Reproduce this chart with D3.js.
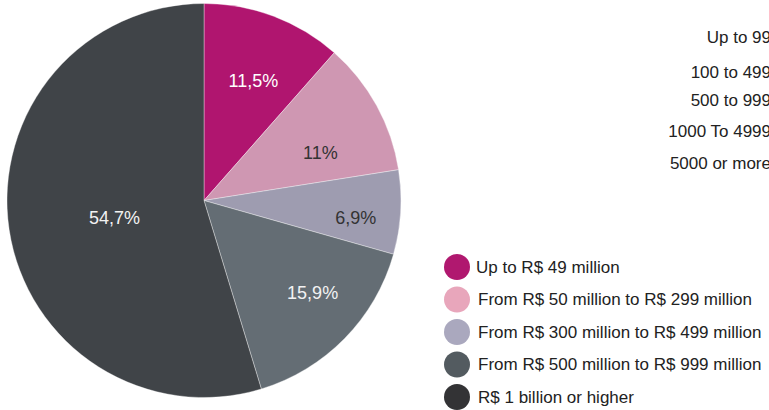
<!DOCTYPE html>
<html>
<head>
<meta charset="utf-8">
<script src="https://cdn.jsdelivr.net/npm/d3@7"></script>
<style>
  body { margin: 0; background: #fff; }
  svg { display: block; font-family: "Liberation Sans", Arial, sans-serif; }
</style>
</head>
<body>
<svg width="769" height="410"></svg>
<script>
// data
var categories = ["Up to R$ 49 million", "From R$ 50 million to R$ 299 million",
    "From R$ 300 million to R$ 499 million", "From R$ 500 million to R$ 999 million",
    "R$ 1 billion or higher"];
var shares = [11.5, 11, 6.9, 15.9, 54.7];
var shareLabels = ["11,5%", "11%", "6,9%", "15,9%", "54,7%"];
var sizeBands = ["Up to 99", "100 to 499", "500 to 999", "1000 To 4999", "5000 or more"];

var sliceColors = ["#b0156f", "#cf97b2", "#9e9cb0", "#646d74", "#404448"];
var legendColors = ["#b0186f", "#e8a6bb", "#aaa8be", "#535b60", "#333335"];
var labelColors = ["#fff", "#333", "#333", "#f2f2f2", "#f2f2f2"];

var svg = d3.select("svg");
var radius = 197;
var pieG = svg.append("g").attr("transform", "translate(204,200.5)");

var pie = d3.pie().sort(null).value(function (d) { return d; });
var arc = d3.arc().innerRadius(0).outerRadius(radius);
var labelArc = d3.arc().innerRadius(radius * 0.68).outerRadius(radius * 0.68);
// hand nudges so labels sit where the original put them
var nudges = [[2, 5], [-1, 17], [18, 9], [13, -2], [43, -3]];

var arcs = pie(shares);

pieG.selectAll("path")
    .data(arcs).enter()
    .append("path")
    .attr("d", arc)
    .attr("fill", function (d, i) { return sliceColors[i]; })
    .attr("stroke", "#fff")
    .attr("stroke-opacity", 0.6)
    .attr("stroke-width", 0.6);

pieG.selectAll("text")
    .data(arcs).enter()
    .append("text")
    .attr("transform", function (d, i) {
        var c = labelArc.centroid(d);
        return "translate(" + (c[0] + nudges[i][0]) + "," + (c[1] + nudges[i][1]) + ")";
    })
    .attr("text-anchor", "middle")
    .attr("dy", "0.35em")
    .attr("font-size", 18)
    .attr("fill", function (d, i) { return labelColors[i]; })
    .text(function (d, i) { return shareLabels[i]; });

// legend
var legendY = d3.scalePoint().domain(categories).range([267, 397]);
var legend = svg.append("g");
var rows = legend.selectAll("g")
    .data(categories).enter()
    .append("g")
    .attr("transform", function (d) { return "translate(457," + legendY(d) + ")"; });
rows.append("circle")
    .attr("r", 13)
    .attr("fill", function (d, i) { return legendColors[i]; });
rows.append("text")
    .attr("x", function (d, i) { return i === 0 ? 19 : 21; })
    .attr("dy", "0.35em")
    .attr("font-size", 17)
    .attr("fill", "#222")
    .text(function (d) { return d; });

// size bands (cut off at the right edge in the original)
var bandY = [37, 72, 100, 131, 163];
svg.append("g").selectAll("text")
    .data(sizeBands).enter()
    .append("text")
    .attr("x", 771)
    .attr("y", function (d, i) { return bandY[i]; })
    .attr("dy", "0.35em")
    .attr("text-anchor", "end")
    .attr("font-size", 17)
    .attr("fill", "#222")
    .text(function (d) { return d; });
</script>
</body>
</html>
